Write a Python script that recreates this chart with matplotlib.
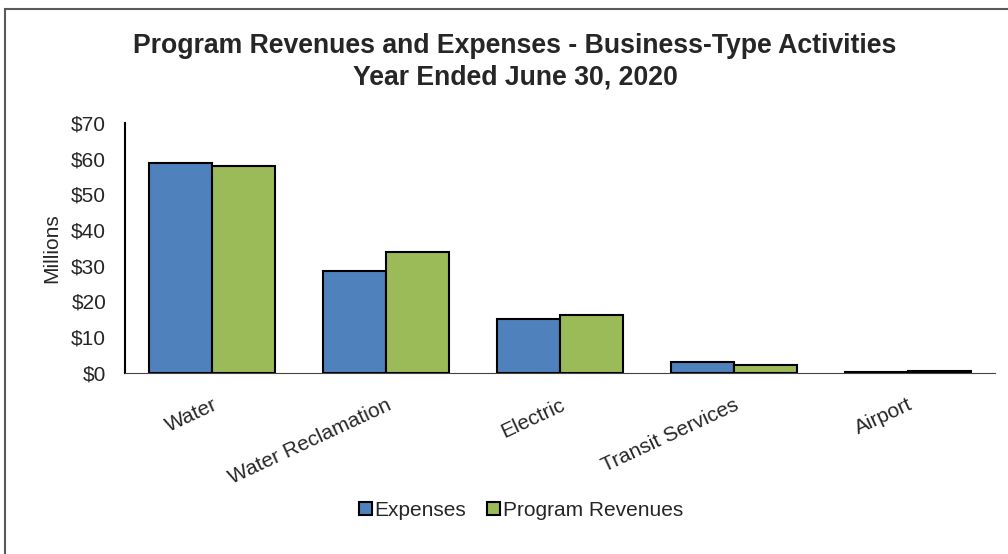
import matplotlib.pyplot as plt
import numpy as np
from matplotlib.patches import Rectangle

plt.rcParams['font.family'] = ['Liberation Sans', 'DejaVu Sans']

categories = ["Water", "Water Reclamation", "Electric", "Transit Services", "Airport"]
expenses = [58.9, 28.6, 15.1, 2.9, 0.3]
revenues = [58.0, 33.9, 16.2, 2.3, 0.5]
yticks = [0, 10, 20, 30, 40, 50, 60, 70]
ytick_labels = ["$0", "$10", "$20", "$30", "$40", "$50", "$60", "$70"]

fig = plt.figure(figsize=(10.08, 5.54), dpi=100)
ax = fig.add_axes([0.124, 0.327, 0.863, 0.451])

x = np.arange(len(categories))
w = 0.362
ax.bar(x - w / 2, expenses, w, color="#4f81bd", edgecolor="black", linewidth=1.5, label="Expenses")
ax.bar(x + w / 2, revenues, w, color="#9bbb59", edgecolor="black", linewidth=1.5, label="Program Revenues")

ax.set_xlim(-0.5, 4.5)
ax.set_ylim(0, 70)
ax.set_yticks(yticks)
ax.set_yticklabels(ytick_labels, fontsize=15, color="#262626")
ax.set_xticks(x)
ax.set_xticklabels(categories, rotation=25, ha="right", rotation_mode="anchor",
                   fontsize=15, color="#262626")
ax.tick_params(axis="y", length=0, pad=13.5)
ax.tick_params(axis="x", length=0, pad=16)
for s in ["top", "right"]:
    ax.spines[s].set_visible(False)
ax.spines["left"].set_linewidth(1.5)
ax.spines["bottom"].set_color("#444444")
ax.set_ylabel("Millions", fontsize=15, color="#262626", labelpad=7)

fig.text(0.511, 0.917, "Program Revenues and Expenses - Business-Type Activities",
         ha="center", va="center", fontsize=19.2, fontweight="bold", color="#262626")
fig.text(0.511, 0.86, "Year Ended June 30, 2020",
         ha="center", va="center", fontsize=19.2, fontweight="bold", color="#262626")

fig.legend(loc="center", bbox_to_anchor=(0.517, 0.079), ncol=2, frameon=False,
           fontsize=15, handlelength=0.6, handleheight=0.6, handletextpad=0.15,
           columnspacing=1.0, labelcolor="#262626")

# chart area outline (extends past the right and bottom edges)
fig.patches.append(Rectangle((0.005, -0.05), 1.1, 1.034, transform=fig.transFigure,
                             fill=False, edgecolor="#595959", linewidth=1.5))

fig.savefig("out.png", dpi=100)
